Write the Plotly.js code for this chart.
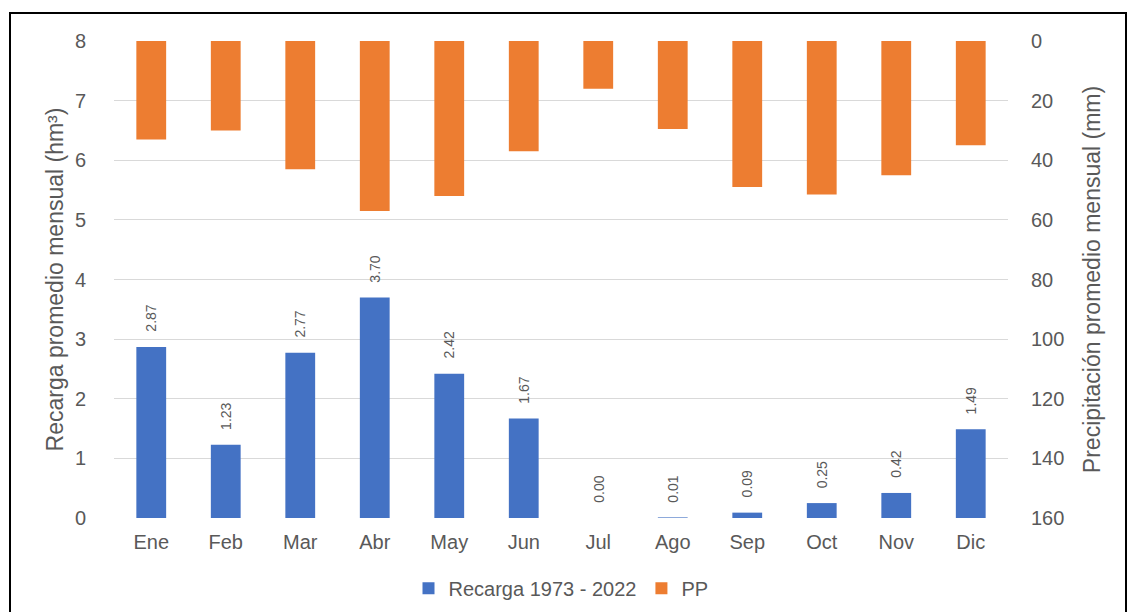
<!DOCTYPE html>
<html>
<head>
<meta charset="utf-8">
<script src="https://cdn.plot.ly/plotly-3.0.1.min.js"></script>
<style>
  html, body { margin: 0; padding: 0; background: #fff; }
  #wrap { position: relative; width: 1130px; height: 612px; overflow: hidden; }
  #frame { position: absolute; left: 9px; top: 12px; width: 1118px; height: 640px; border: 2px solid #000; box-sizing: border-box; pointer-events: none; }
  #chart { position: absolute; left: 0; top: 0; width: 1130px; height: 612px; }
</style>
</head>
<body>
<div id="wrap">
  <div id="chart"></div>
  <div id="frame"></div>
</div>
<script>
const months = ["Ene","Feb","Mar","Abr","May","Jun","Jul","Ago","Sep","Oct","Nov","Dic"];
const recarga = [2.87, 1.23, 2.77, 3.70, 2.42, 1.67, 0.00, 0.01, 0.09, 0.25, 0.42, 1.49];
const pp = [33, 30, 43, 57, 52, 37, 16, 29.5, 49, 51.5, 45, 35];
const recargaName = "Recarga 1973 - 2022";
const ppName = "PP";

const grey = "#595959";
const fam = "Liberation Sans, Arial, sans-serif";
const traces = [
  {
    type: "bar", x: months, y: recarga, name: recargaName, yaxis: "y",
    marker: { color: "#4472C4" }, width: 0.4, hoverinfo: "x+y"
  },
  {
    type: "bar", x: months, y: pp, name: ppName, yaxis: "y2",
    marker: { color: "#ED7D31" }, width: 0.4, hoverinfo: "x+y"
  }
];

const labelAnnotations = months.map((m, i) => ({
  x: m, y: recarga[i], xref: "x", yref: "y",
  text: recarga[i].toFixed(2), textangle: -90, showarrow: false,
  yanchor: "bottom", xanchor: "center", yshift: 13,
  font: { family: fam, size: 14, color: grey }
}));

const layout = {
  width: 1130, height: 612,
  margin: { l: 114, r: 122, t: 41, b: 94 },
  paper_bgcolor: "#fff", plot_bgcolor: "#fff",
  barmode: "overlay",
  font: { family: fam, color: grey, size: 20 },
  showlegend: true,
  legend: { orientation: "h", x: 0.5, xanchor: "center", xref: "paper",
            y: 0.039, yanchor: "middle", yref: "container",
            font: { size: 20, color: grey }, traceorder: "normal" },
  annotations: labelAnnotations,
  xaxis: {
    type: "category", showgrid: false, zeroline: false, showline: false,
    ticks: "", ticklabelstandoff: 10, tickfont: { size: 20, color: grey }, automargin: false
  },
  yaxis: {
    range: [0, 8], dtick: 1, showgrid: true, gridcolor: "#d9d9d9", gridwidth: 1,
    zeroline: false, showline: false, ticks: "", ticklabelstandoff: 27,
    tickfont: { size: 20, color: grey },
    title: { text: "Recarga promedio mensual (hm³)", font: { size: 23, color: grey }, standoff: 4 },
    automargin: false
  },
  yaxis2: {
    overlaying: "y", side: "right", range: [160, 0], dtick: 20,
    showgrid: false, zeroline: false, showline: false, ticks: "", ticklabelstandoff: 22,
    tickfont: { size: 20, color: grey },
    title: { text: "Precipitación promedio mensual (mm)", font: { size: 23, color: grey }, standoff: 20 },
    automargin: false
  }
};

Plotly.newPlot("chart", traces, layout, { displayModeBar: false, staticPlot: true });
</script>
</body>
</html>
